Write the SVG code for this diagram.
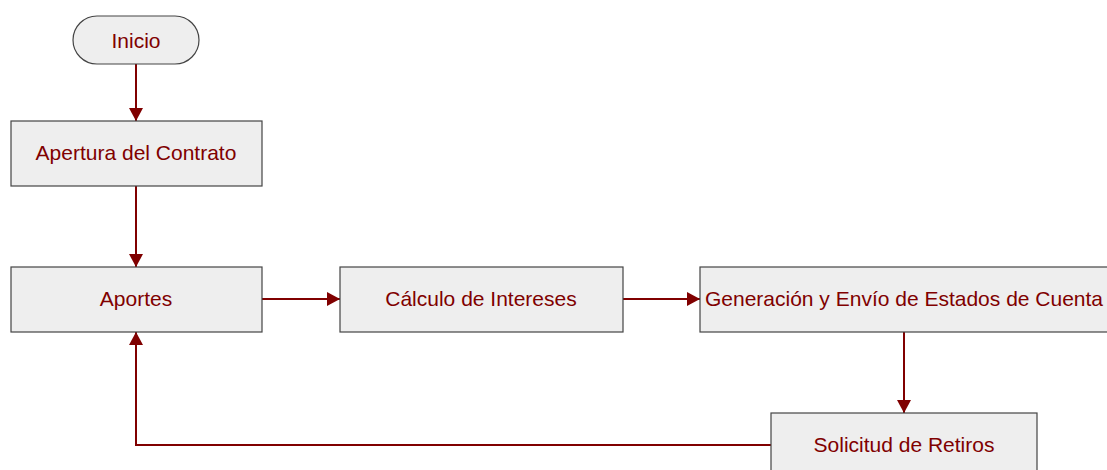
<svg xmlns="http://www.w3.org/2000/svg" width="1107" height="470" viewBox="0 0 1107 470">
  <style>
    .box { fill: #eeeeee; stroke: #444444; stroke-width: 1.2; }
    .label { font-family: "Liberation Sans", Arial, sans-serif; font-size: 21px; fill: #800000; text-anchor: middle; dominant-baseline: central; }
    .edge { fill: none; stroke: #800000; stroke-width: 2; marker-end: url(#arrow); }
  </style>
  <defs>
    <marker id="arrow" viewBox="0 0 13 14" refX="13" refY="7" markerWidth="13" markerHeight="14" markerUnits="userSpaceOnUse" orient="auto">
      <path d="M0,0 L13,7 L0,14 Z" fill="#800000"/>
    </marker>
  </defs>
  <rect width="1107" height="470" fill="#ffffff"/>

  <g id="connectors">
    <path class="edge" d="M136,64 L136,121"/>
    <path class="edge" d="M136,186 L136,267"/>
    <path class="edge" d="M262,299 L340,299"/>
    <path class="edge" d="M623,299 L700,299"/>
    <path class="edge" d="M904,332 L904,413"/>
    <path class="edge" d="M771,445 L136,445 L136,332"/>
  </g>

  <g id="inicio">
    <rect class="box" x="73" y="16" width="126" height="48" rx="24" ry="24"/>
    <text class="label" x="136" y="40">Inicio</text>
  </g>
  <g id="apertura">
    <rect class="box" x="11" y="121" width="251" height="65"/>
    <text class="label" x="136" y="152">Apertura del Contrato</text>
  </g>
  <g id="aportes">
    <rect class="box" x="11" y="267" width="251" height="65"/>
    <text class="label" x="136" y="298">Aportes</text>
  </g>
  <g id="calculo">
    <rect class="box" x="340" y="267" width="283" height="65"/>
    <text class="label" x="481" y="298">Cálculo de Intereses</text>
  </g>
  <g id="generacion">
    <rect class="box" x="700" y="267" width="408" height="65"/>
    <text class="label" x="904" y="298">Generación y Envío de Estados de Cuenta</text>
  </g>
  <g id="solicitud">
    <rect class="box" x="771" y="413" width="266" height="65"/>
    <text class="label" x="904" y="444">Solicitud de Retiros</text>
  </g>
</svg>
